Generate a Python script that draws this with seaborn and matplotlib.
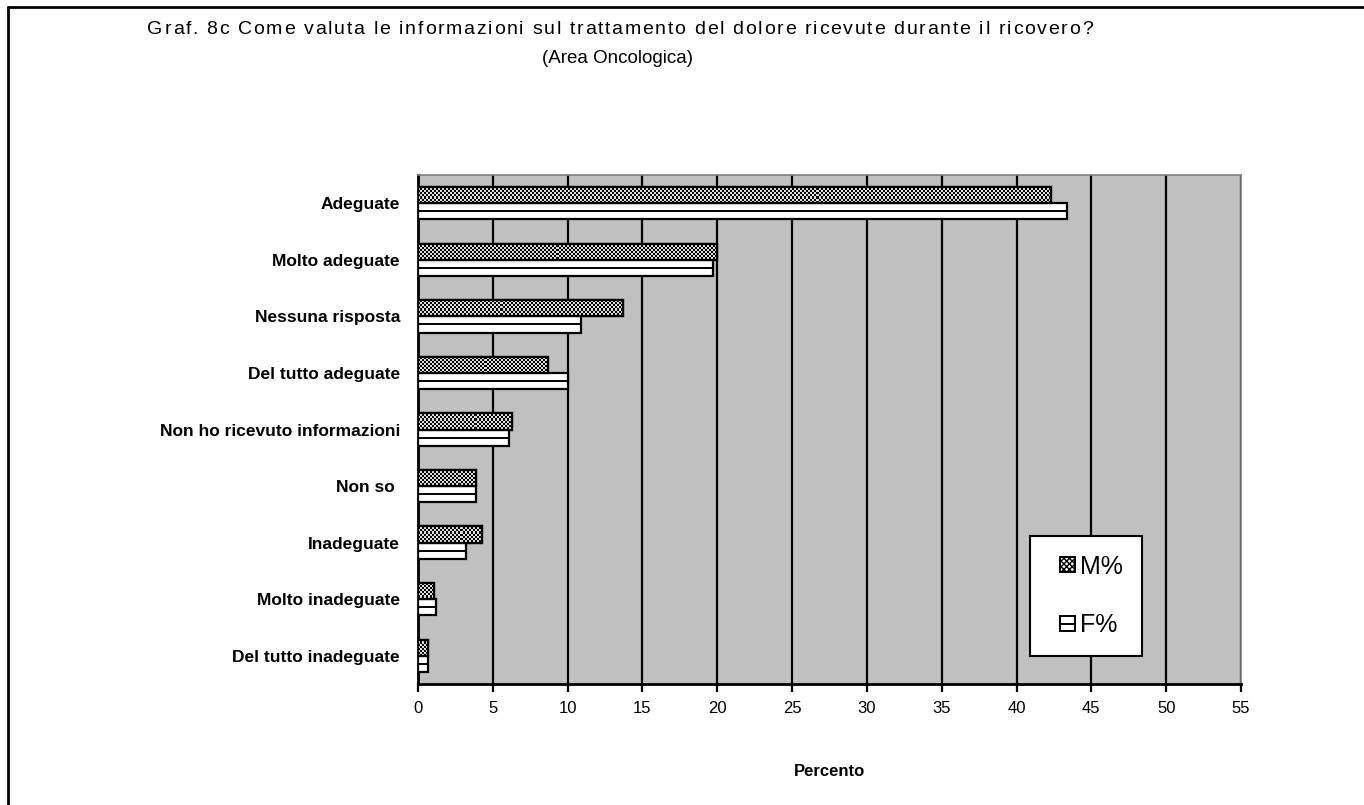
import numpy as np
import pandas as pd
import matplotlib
matplotlib.use("Agg")
import matplotlib.pyplot as plt
import seaborn as sns
from matplotlib.patches import Rectangle
from matplotlib.lines import Line2D
from matplotlib.legend_handler import HandlerBase

# Survey answers (top to bottom) and percentages by sex
categories = [
    "Adeguate",
    "Molto adeguate",
    "Nessuna risposta",
    "Del tutto adeguate",
    "Non ho ricevuto informazioni",
    "Non so ",
    "Inadeguate",
    "Molto inadeguate",
    "Del tutto inadeguate",
]
male_pct = [42.3, 20.0, 13.7, 8.7, 6.3, 3.9, 4.3, 1.1, 0.7]
female_pct = [43.4, 19.7, 10.9, 10.0, 6.1, 3.9, 3.2, 1.2, 0.7]
series_names = ["M%", "F%"]
x_ticks = list(range(0, 56, 5))
title_line1 = "Graf. 8c Come valuta le informazioni sul trattamento del dolore ricevute durante il ricovero?"
title_line2 = "(Area Oncologica)"

df = pd.DataFrame({
    "Risposta": categories * 2,
    "Percento": male_pct + female_pct,
    "Sesso": [series_names[0]] * len(categories) + [series_names[1]] * len(categories),
})

sns.set_style("white")
plt.rcParams["font.family"] = ["Liberation Sans", "DejaVu Sans"]
for key in ["text.color", "axes.labelcolor", "xtick.color", "ytick.color"]:
    plt.rcParams[key] = "black"

W, H = 1364, 805
fig = plt.figure(figsize=(W / 100, H / 100), dpi=100)
fig.patch.set_facecolor("white")

ax_l, ax_r, ax_t, ax_b = 418, 1241, 175, 684
ax = fig.add_axes([ax_l / W, 1 - ax_b / H, (ax_r - ax_l) / W, (ax_b - ax_t) / H])
ax.set_facecolor("#c0c0c0")

sns.barplot(
    data=df, y="Risposta", x="Percento", hue="Sesso", order=categories,
    hue_order=series_names, orient="h", width=0.57, gap=0,
    palette=["white", "white"], edgecolor="black", linewidth=1.6,
    saturation=1, legend=False, ax=ax, zorder=3,
)

ax.set_xlim(0, 55)
ax.set_ylim(len(categories) - 0.5, -0.5)
ax.set_xticks(x_ticks)
ax.set_xticklabels([str(t) for t in x_ticks], fontsize=12)

# vertical gridlines
ax.set_axisbelow(True)
ax.grid(axis="x", color="black", linewidth=1.6)
ax.grid(axis="y", visible=False)

# checkered fill for the male bars
cell = 2
nx = (ax_r - ax_l) // cell
ny = (ax_b - ax_t) // cell
checker = (np.add.outer(np.arange(ny), np.arange(nx)) % 2).astype(float)
for bar in ax.containers[0]:
    im = ax.imshow(checker, cmap="gray", vmin=0, vmax=1.15, interpolation="nearest",
                   extent=[0, 55, len(categories) - 0.5, -0.5], aspect="auto",
                   zorder=3.5)
    im.set_clip_path(bar)
    x0, y0 = bar.get_xy()
    ax.add_patch(Rectangle((x0, y0), bar.get_width(), bar.get_height(),
                           fill=False, edgecolor="black", linewidth=1.6, zorder=4))

# single horizontal stripe inside the female bars
for bar in ax.containers[1]:
    x0, y0 = bar.get_xy()
    yc = y0 + bar.get_height() / 2
    ax.plot([x0, x0 + bar.get_width()], [yc, yc], color="black", linewidth=1.4,
            solid_capstyle="butt", zorder=4)

ax.set_xlim(0, 55)
ax.set_ylim(len(categories) - 0.5, -0.5)

# category labels at centres, tick marks at the boundaries
ax.set_yticks(range(len(categories)))
ax.set_yticklabels(categories, fontsize=12.5, fontweight="bold")
ax.set_yticks(np.arange(-0.5, len(categories), 1.0), minor=True)
ax.tick_params(axis="y", which="major", length=0, pad=13)
ax.tick_params(axis="y", which="minor", length=6, width=1.6, color="black", direction="out")
ax.tick_params(axis="x", which="major", length=6, width=1.6, color="black",
               direction="out", pad=6, bottom=True)

ax.set_ylabel("")
ax.set_xlabel("Percento", fontsize=12, fontweight="bold", labelpad=35)

for side in ["left", "bottom"]:
    ax.spines[side].set_color("black")
    ax.spines[side].set_linewidth(2)
for side in ["top", "right"]:
    ax.spines[side].set_color("#808080")
    ax.spines[side].set_linewidth(1.2)


class CheckerHandler(HandlerBase):
    def create_artists(self, legend, orig_handle, xdescent, ydescent, width, height,
                       fontsize, trans):
        side = height
        r = Rectangle((-xdescent + width - side, -ydescent), side, side, facecolor="white",
                      edgecolor="black", hatch="xxxxxx", linewidth=1.4, transform=trans)
        return [r]


class StripeHandler(HandlerBase):
    def create_artists(self, legend, orig_handle, xdescent, ydescent, width, height,
                       fontsize, trans):
        side = height
        x0 = -xdescent + width - side
        r = Rectangle((x0, -ydescent), side, side, facecolor="white",
                      edgecolor="black", linewidth=1.4, transform=trans)
        ym = -ydescent + side / 2
        ln = Line2D([x0, x0 + side], [ym, ym], color="black",
                    linewidth=1.4, transform=trans)
        return [r, ln]


h_m = Rectangle((0, 0), 1, 1)
h_f = Rectangle((0, 0), 1, 1)
leg = fig.legend(
    [h_m, h_f], series_names,
    handler_map={h_m: CheckerHandler(), h_f: StripeHandler()},
    loc="center", bbox_to_anchor=(1086 / W, 1 - 596 / H),
    fontsize=18, frameon=True, fancybox=False, edgecolor="black",
    handlelength=1.05, handleheight=0.56, handletextpad=0.2,
    labelspacing=1.4, borderpad=0.75,
)
leg.get_frame().set_linewidth(1.5)
leg.get_frame().set_facecolor("white")
leg.get_frame().set_alpha(1)


def tracked_text(s, xc_px, base_px, track_px, **kw):
    """Write s centred on xc_px with extra spacing between characters."""
    rend = fig.canvas.get_renderer()
    probe = fig.text(0, 0, "", **kw)

    def width(txt):
        probe.set_text(txt)
        return probe.get_window_extent(rend).width

    bar_w = width("|")
    offsets = [width(s[:i] + "|") - bar_w for i in range(len(s))]
    total = width(s) + track_px * (len(s) - 1)
    probe.remove()
    x0 = xc_px - total / 2
    for i, ch in enumerate(s):
        if ch == " ":
            continue
        fig.text((x0 + offsets[i] + i * track_px) / W, 1 - base_px / H, ch,
                 ha="left", va="baseline", **kw)


tracked_text(title_line1, 620, 34, 1.7, fontsize=14)
fig.text(618 / W, 1 - 63 / H, title_line2, ha="center", va="baseline", fontsize=13.5)

# outer chart frame (top and left edges)
fig.add_artist(Line2D([8 / W, 1], [1 - 7 / H, 1 - 7 / H], color="black", linewidth=2,
                      transform=fig.transFigure))
fig.add_artist(Line2D([8 / W, 8 / W], [1 - 7 / H, 0], color="black", linewidth=2,
                      transform=fig.transFigure))

fig.savefig("out.png", dpi=100, facecolor="white")
